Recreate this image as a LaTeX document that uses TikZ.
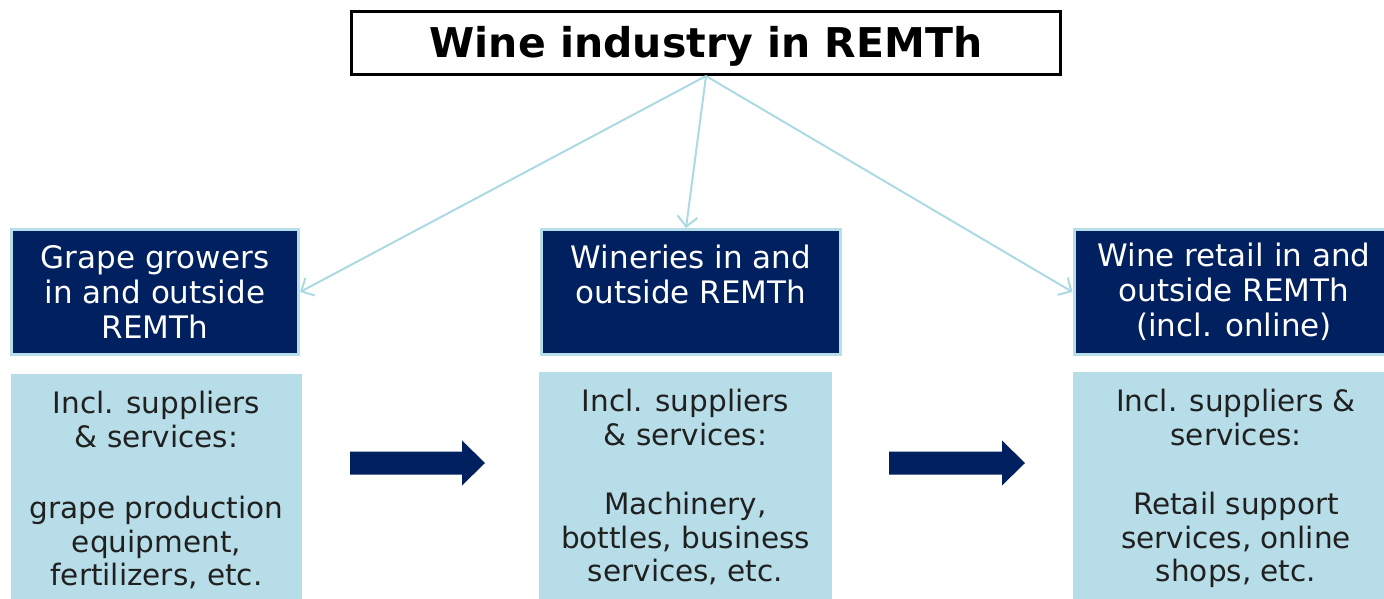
\documentclass[tikz,border=0pt]{standalone}
\usepackage{fontspec}
\setmainfont{DejaVu Sans}
\usetikzlibrary{arrows.meta}
\definecolor{navy}{RGB}{0,32,96}
\definecolor{aqua}{RGB}{183,222,232}
\definecolor{linkblue}{RGB}{172,218,226}
\definecolor{inkgray}{RGB}{32,32,32}

\begin{document}
\begin{tikzpicture}[x=1pt,y=-1pt,
		title/.style={draw=black,line width=3pt,minimum width=709pt,minimum height=63pt,inner sep=0pt,text depth=2pt,font=\fontsize{41}{45}\selectfont\bfseries},
		stage/.style={fill=navy,draw=aqua,line width=3pt,text=white,align=center,minimum height=125pt,inner sep=0pt,font=\fontsize{31}{35}\selectfont},
		support/.style={fill=aqua,text=inkgray,align=center,anchor=north,inner xsep=0pt,inner ysep=17pt,font=\fontsize{29.5}{33.5}\selectfont},
		link/.style={draw=linkblue,line width=2pt,-{Straight Barb[length=10pt,width=20pt]}},
		flow/.style={fill=navy}]
		\clip (0,0) rectangle (1384,598);
		\node[title] (wine) at (706,43) {Wine industry in REMTh};
		\node[stage,minimum width=287pt] (grow) at (155,292) {Grape growers\\in and outside\\REMTh};
		\node[stage,minimum width=299pt] (makers) at (691,292) {Wineries in and\\outside REMTh\\\mbox{}};
		\node[stage,minimum width=320pt] (retail) at (1234,292) {Wine retail in and\\outside REMTh\\(incl. online)};
		\node[support,minimum width=291pt] (supgrow) at (156.5,374) {Incl. suppliers\\\& services:\\[38pt]grape production\\equipment,\\fertilizers, etc.};
		\node[support,minimum width=293pt] (supmakers) at (685.5,372) {Incl. suppliers\\\& services:\\[36pt]Machinery,\\bottles, business\\services, etc.};
		\node[support,minimum width=326pt] (supretail) at (1236,372) {Incl. suppliers \&\\services:\\[36pt]Retail support\\services, online\\shops, etc.};
		\draw[link] (wine.south) -- (grow.east);
		\draw[link] (wine.south) -- ([xshift=-5pt]makers.north);
		\draw[link] (wine.south) -- (retail.west);
		\coordinate (f1a) at (350,463);
		\coordinate (f1b) at (485,463);
		\coordinate (f2a) at (889,463);
		\coordinate (f2b) at (1025,463);
		\fill[flow] (f1a) ++(0,-11.5) -- ++(112,0) -- ++(0,-11) -- (f1b) -- ++(-23,22.5) -- ++(0,-11) -- ++(-112,0) -- cycle;
		\fill[flow] (f2a) ++(0,-11.5) -- ++(113,0) -- ++(0,-11) -- (f2b) -- ++(-23,22.5) -- ++(0,-11) -- ++(-113,0) -- cycle;
	\end{tikzpicture}
\end{document}
